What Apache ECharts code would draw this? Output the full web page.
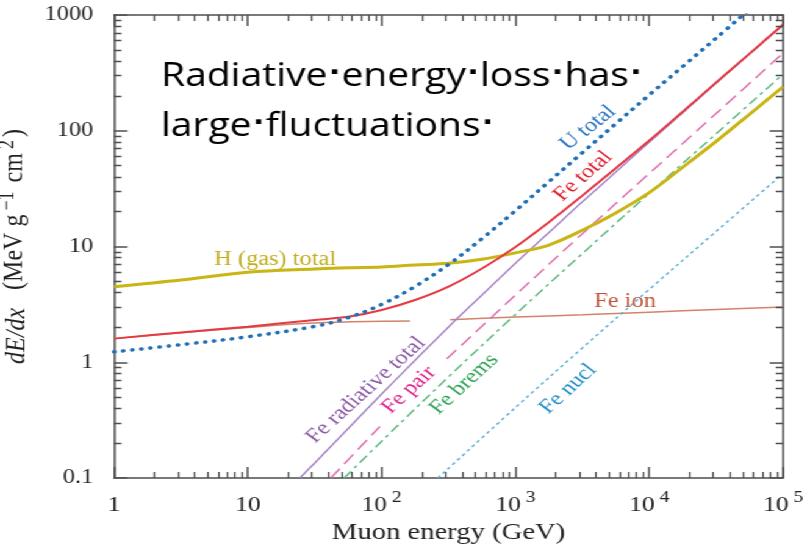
<!DOCTYPE html>
<html>
<head>
<meta charset="utf-8">
<script src="https://cdn.jsdelivr.net/npm/echarts@6/dist/echarts.min.js"></script>
<style>
html, body { margin: 0; padding: 0; background: #fff; overflow: hidden; }
#wrap { width: 810px; height: 544px; overflow: hidden; }
/* the figure is laid out on a narrower canvas and widened to 810 px */
#chart { width: 664px; height: 544px; transform: scaleX(1.2199); transform-origin: 0 0; }
</style>
</head>
<body>
<div id="wrap"><div id="chart"></div></div>
<script>
// ---- axis ticks -------------------------------------------------------
const xTickValues = [1, 10, 100, 1000, 10000, 100000];
const xTickLabels = ['1', '10', '10^2', '10^3', '10^4', '10^5'];
const yTickValues = [0.1, 1, 10, 100, 1000];
const yTickLabels = ['0.1', '1', '10', '100', '1000'];

// ---- muon energy grid (GeV) shared by the total curves -----------------
const energyGrid = [1, 3.162, 10, 31.62, 56.23, 100, 177.8, 316.2, 562.3, 1000,
                    1778, 3162, 5623, 10000, 17780, 31620, 56230, 100000];
// dE/dx in MeV g^-1 cm^2
const hGasTotal = [4.5, 5.14, 6.0, 6.4, 6.56, 6.65, 6.92, 7.16, 7.76, 8.81,
                   10.3, 13.8, 19.5, 29.2, 48.4, 81, 139, 240];
const feTotal   = [1.60, 1.81, 2.03, 2.32, 2.47, 2.83, 3.45, 4.5, 6.45, 9.9,
                   16.2, 27.5, 47.5, 82.3, 146, 261, 464, 827];
const uTotal    = [1.23, 1.42, 1.66, 2.04, 2.43, 3.16, 4.52, 7.0, 11.7, 20.4,
                   36.3, 64.6, 115, 204, 359, 631, 1122];

// Fe ionization, drawn in two pieces around the label gap
const feIonEnergyLow  = [1, 3.162, 10, 31.62, 100, 163];
const feIonLow        = [1.60, 1.80, 2.0, 2.18, 2.26, 2.27];
const feIonEnergyHigh = [325, 1000, 3162, 10000, 31620, 100000];
const feIonHigh       = [2.33, 2.46, 2.57, 2.71, 2.85, 3.0];

// Fe radiative contributions
const feRadEnergy = [24.5, 31.62, 56.23, 100, 177.8, 316.2, 562.3, 1000, 1778,
                     3162, 5623, 10000, 17780, 31620, 56230, 100000];
const feRadTotal  = [0.1, 0.135, 0.268, 0.532, 1.04, 2.02, 3.81, 7.18, 13.2,
                     24.3, 44.0, 79.6, 143, 258, 461, 824];
// pair production, broken where its label sits on the curve
const fePairEnergyLow  = [41.7, 97];
const fePairLow        = [0.1, 0.279];
const fePairEnergyHigh = [307, 1000, 3162, 10000, 31620, 100000];
const fePairHigh       = [1.07, 3.80, 12.9, 42.7, 141, 468];
const feBremsEnergy = [52.5, 100, 316.2, 1000, 3162, 10000, 31620, 100000];
const feBrems       = [0.1, 0.208, 0.748, 2.59, 8.69, 28.8, 94.2, 308];
const feNuclEnergy  = [263, 1000, 3162, 10000, 31620, 100000];
const feNucl        = [0.1, 0.406, 1.33, 4.26, 13.5, 42.6];

// ---- helpers ------------------------------------------------------------
const pairs = (xs, ys) => ys.map((y, i) => [xs[i], y]);
const serif = 'Liberation Serif';
const axisColor = '#4e4e4e';
const textColor = '#222';

const gridBox = { left: 93.5, right: 22.1, top: 15, bottom: 66 };
const canvasW = 664, canvasH = 544;
const xMin = 1, xMax = 100000, yMin = 0.1, yMax = 1000;

// 2..9 sub-divisions of each decade
function minorValues(lo, hi) {
  const out = [];
  for (let p = lo; p < hi; p++) {
    for (let m = 2; m <= 9; m++) out.push(+(m * Math.pow(10, p)).toPrecision(3));
  }
  return out;
}
const xMinor = minorValues(0, 5);
const yMinor = minorValues(-1, 3);

// inward tick segments on all four frame edges; a tick of n pixels on a
// log axis spans a fixed ratio of the value, so the segments live in data space
const pxPerDecadeX = (canvasW - gridBox.left - gridBox.right) / Math.log10(xMax / xMin);
const pxPerDecadeY = (canvasH - gridBox.top - gridBox.bottom) / Math.log10(yMax / yMin);
function tickSegments(xs, ys, len) {
  const ry = Math.pow(10, len / pxPerDecadeY);
  const rx = Math.pow(10, len / pxPerDecadeX);
  const segs = [];
  xs.forEach(v => {
    segs.push({ coords: [[v, yMin], [v, yMin * ry]] });
    segs.push({ coords: [[v, yMax], [v, yMax / ry]] });
  });
  ys.forEach(v => {
    segs.push({ coords: [[xMin, v], [xMin * rx, v]] });
    segs.push({ coords: [[xMax, v], [xMax / rx, v]] });
  });
  return segs;
}
function tickSeries(segs, width) {
  return {
    type: 'lines', coordinateSystem: 'cartesian2d', silent: true, z: 10,
    polyline: false, data: segs,
    lineStyle: { color: axisColor, width: width, opacity: 1, curveness: 0 },
    emphasis: { disabled: true }
  };
}

function tagged(text, color, coord, rotate) {
  return {
    symbol: 'circle', symbolSize: 0, silent: true,
    label: {
      show: true, position: 'inside', formatter: text, color: color,
      fontFamily: serif, fontSize: 20, rotate: rotate
    },
    data: [{ coord: coord }]
  };
}

function curve(name, data, color, width, type, z, extra) {
  return Object.assign({
    name: name, type: 'line', data: data, symbol: 'none', smooth: 0.35,
    clip: true, z: z,
    lineStyle: { color: color, width: width, type: type || 'solid', cap: 'butt' },
    emphasis: { disabled: true }
  }, extra || {});
}

const tilt = 47.7;

const logX = (extra) => Object.assign({
  type: 'log', logBase: 10, min: xMin, max: xMax, splitLine: { show: false },
  axisTick: { show: false }
}, extra);
const logY = (extra) => Object.assign({
  type: 'log', logBase: 10, min: yMin, max: yMax, splitLine: { show: false },
  axisTick: { show: false }
}, extra);

const lineOn = { show: true, onZero: false, lineStyle: { color: axisColor, width: 1.5 } };

const option = {
  animation: false,
  backgroundColor: '#ffffff',
  grid: Object.assign({ containLabel: false, outerBoundsMode: 'none' }, gridBox),
  xAxis: [
    logX({
      position: 'bottom', axisLine: lineOn,
      axisLabel: {
        show: true, margin: 12, customValues: xTickValues,
        formatter: function (v) {
          const k = Math.round(Math.log10(v));
          const t = xTickLabels[k];
          if (t.indexOf('^') < 0) return '{b|' + t + '}';
          const parts = t.split('^');
          return '{b|' + parts[0] + '}{s|' + parts[1] + '}';
        },
        rich: {
          b: { fontFamily: serif, fontSize: 21, color: textColor, lineHeight: 26, verticalAlign: 'bottom' },
          s: { fontFamily: serif, fontSize: 16, color: textColor, lineHeight: 16, verticalAlign: 'top', padding: [0, 0, 0, 4] }
        }
      },
      name: 'Muon energy (GeV)', nameLocation: 'middle', nameGap: 36,
      nameTextStyle: { fontFamily: serif, fontSize: 23.5, color: textColor }
    }),
    logX({ position: 'top', axisLine: lineOn, axisLabel: { show: false } })
  ],
  yAxis: [
    logY({
      position: 'left', axisLine: lineOn,
      axisLabel: {
        show: true, margin: 17, customValues: yTickValues,
        fontFamily: serif, fontSize: 20, color: textColor,
        formatter: function (v) {
          const k = Math.round(Math.log10(v)) + 1;
          return yTickLabels[k];
        }
      },
      name: '{i|dE/dx}   (MeV g{s|\u22121} cm{s|2})', nameLocation: 'middle', nameGap: 50,
      nameTextStyle: {
        fontFamily: serif, fontSize: 24, color: textColor,
        rich: {
          i: { fontFamily: serif, fontSize: 24, fontStyle: 'italic', color: textColor, lineHeight: 28, verticalAlign: 'bottom' },
          s: { fontFamily: serif, fontSize: 18, color: textColor, lineHeight: 16, verticalAlign: 'top', padding: [0, 3, 0, 4] }
        }
      }
    }),
    logY({ position: 'right', axisLine: lineOn, axisLabel: { show: false } })
  ],
  graphic: [{
    type: 'text', left: 132, top: 52, silent: true, z: 20,
    style: {
      text: 'Radiative{d|\u00b7}energy{d|\u00b7}loss{d|\u00b7}has{d|\u00b7}\nlarge{d|\u00b7}fluctuations{d|\u00b7}',
      fontFamily: 'Open Sans', fontSize: 32, lineHeight: 50, fill: '#000',
      rich: {
        d: { fontFamily: 'DejaVu Sans', fontWeight: 'bold', fontSize: 25, lineHeight: 50,
             verticalAlign: 'middle', padding: [0, 1, 8, 1], fill: '#000' }
      }
    }
  }],
  series: [
    tickSeries(tickSegments(xTickValues, yTickValues, 11), 1.5),
    tickSeries(tickSegments(xMinor, yMinor, 6), 1.3),
    curve('Fe ion', pairs(feIonEnergyLow, feIonLow), '#d3836b', 1.5, 'solid', 2),
    curve('Fe ion ', pairs(feIonEnergyHigh, feIonHigh), '#d3836b', 1.5, 'solid', 2,
          { markPoint: tagged('Fe ion', '#c0563a', [6590, 3.31], 0) }),
    curve('Fe nucl', pairs(feNuclEnergy, feNucl), '#62b2d8', 1.5, [3, 3], 3,
          { markPoint: tagged('Fe nucl', '#2290c6', [2473, 0.588], tilt) }),
    curve('Fe brems', pairs(feBremsEnergy, feBrems), '#5fba82', 1.5, [9, 4, 3, 4], 3,
          { markPoint: tagged('Fe brems', '#2ea356', [413, 0.648], tilt) }),
    curve('Fe pair', pairs(fePairEnergyLow, fePairLow), '#e06fb0', 1.5, [12, 6], 3),
    curve('Fe pair ', pairs(fePairEnergyHigh, fePairHigh), '#e06fb0', 1.5, [12, 6], 3,
          { markPoint: tagged('Fe pair', '#e0218c', [160, 0.575], tilt) }),
    curve('Fe radiative total', pairs(feRadEnergy, feRadTotal), '#a985c8', 1.5, 'solid', 4,
          { markPoint: tagged('Fe radiative total', '#8c5aa8', [76.4, 0.575], tilt) }),
    curve('H (gas) total', pairs(energyGrid, hGasTotal), '#c9b514', 3, 'solid', 5,
          { markPoint: tagged('H (gas) total', '#c2ad1c', [16.0, 7.64], 0) }),
    curve('Fe total', pairs(energyGrid, feTotal), '#e43a44', 2, 'solid', 6,
          { markPoint: tagged('Fe total', '#e0202e', [3200, 40.6], 46.7) }),
    curve('U total', pairs(energyGrid, uTotal), '#1f6fb6', 3.5, [0.5, 7], 7,
          { lineStyle: { color: '#1f6fb6', width: 3.5, type: [0.5, 7], cap: 'round' },
            markPoint: tagged('U total', '#2a78c0', [3490, 106], 43.6) })
  ]
};

const chart = echarts.init(document.getElementById('chart'), null, { renderer: 'canvas' });
chart.setOption(option);
</script>
</body>
</html>
